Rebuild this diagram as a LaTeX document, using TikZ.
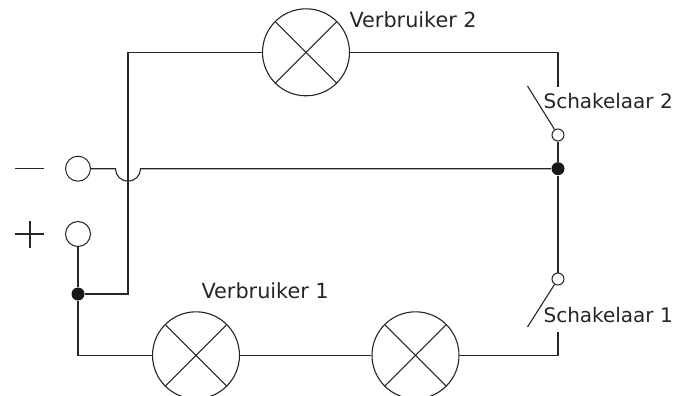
\documentclass[tikz,border=0pt]{standalone}
\usepackage{fontspec}
\setmainfont{DejaVu Sans}
\begin{document}
\begin{tikzpicture}[x=1pt,y=-1pt,line width=1.1pt,color=black!85,
  lamp/.style={circle,draw,minimum size=87pt,inner sep=0pt,line width=1.1pt,path picture={\draw[line width=1.1pt] (path picture bounding box.north west)--(path picture bounding box.south east) (path picture bounding box.north east)--(path picture bounding box.south west);}},
  term/.style={circle,draw,fill=white,minimum size=25pt,inner sep=0pt,line width=1pt},
  swc/.style={circle,draw,fill=white,minimum size=12pt,inner sep=0pt,line width=1pt},
  dotn/.style={circle,fill=black!90,minimum size=13pt,inner sep=0pt},
  lab/.style={inner sep=0pt,text=black!85,font=\fontsize{20}{22}\selectfont},
  labv/.style={lab,font=\fontsize{20.8}{22}\selectfont}]
\useasboundingbox (0,0) rectangle (686,396);
\node[lamp] (v2) at (306,52.3) {};
\node[lamp] (v1) at (196,355.3) {};
\node[lamp] (v3) at (415.5,355.3) {};
\node[term] (tm) at (78,168.7) {};
\node[term] (tp) at (78,234) {};
\node[swc] (s2) at (558,135) {};
\node[swc] (s1) at (558,279) {};
\node[dotn] (jr) at (558,168.7) {};
\node[dotn] (jl) at (78,294) {};
\coordinate (a1) at (115.5,168.7);
\coordinate (c1) at (128,294);
\coordinate (c2) at (128,52.3);
\coordinate (r1) at (558,52.3);
\coordinate (r2) at (558,87);
\coordinate (b1) at (558,355.3);
\coordinate (b2) at (558,332);
\coordinate (bl) at (78,355.3);
\coordinate (k2) at (527.5,86);
\coordinate (k1) at (527.5,327);
\coordinate (m1) at (15,168.7);
\coordinate (m2) at (44,168.7);
\coordinate (p1) at (15,234);
\coordinate (p2) at (44,234);
\coordinate (p3) at (30,220.5);
\coordinate (p4) at (30,248);
\draw (jl)--(c1)--(c2)--(v2);
\draw (v2)--(r1)--(r2);
\draw (tm)--(a1) arc[start angle=180,end angle=0,radius=12.5] -- (jr);
\draw (s2)--(jr)--(s1);
\draw (tp)--(jl)--(bl)--(v1);
\draw (v1)--(v3);
\draw (v3)--(b1)--(b2);
\draw (k2)--(s2);
\draw (k1)--(s1);
\draw (m1)--(m2);
\draw (p1)--(p2);
\draw (p3)--(p4);
\node[labv,anchor=base west] (t1) at (349,28) {Verbruiker 2};
\node[labv,anchor=base west] (t2) at (201,298) {Verbruiker 1};
\node[lab,anchor=base west] (t3) at (543,109) {Schakelaar 2};
\node[lab,anchor=base west] (t4) at (543,322) {Schakelaar 1};
\end{tikzpicture}
\end{document}
